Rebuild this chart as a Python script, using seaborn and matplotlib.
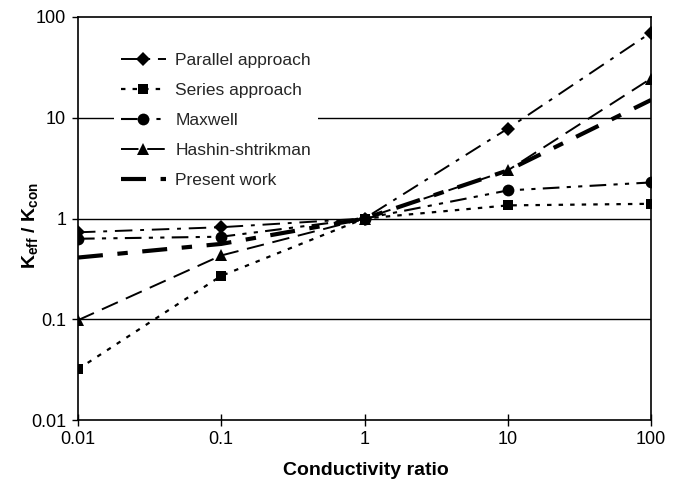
import matplotlib
matplotlib.use("Agg")
import matplotlib.pyplot as plt
import seaborn as sns

# Conductivity ratio and effective conductivity ratio for each model
ratio = [0.01, 0.1, 1, 10, 100]
parallel = [0.73, 0.82, 1.0, 7.8, 70.0]
series = [0.032, 0.27, 1.0, 1.35, 1.4]
maxwell = [0.63, 0.66, 1.0, 1.9, 2.28]
hashin = [0.098, 0.43, 1.0, 3.0, 24.5]
present = [0.41, 0.56, 1.0, 3.0, 15.0]
tick_labels = ["0.01", "0.1", "1", "10", "100"]

sns.set_theme(style="white")
plt.rcParams["font.family"] = ["Liberation Sans", "DejaVu Sans"]
plt.rcParams["mathtext.fontset"] = "custom"
plt.rcParams["mathtext.rm"] = "Liberation Sans"
plt.rcParams["mathtext.bf"] = "Liberation Sans:bold"

fig = plt.figure(figsize=(6.81, 4.84), dpi=100)
ax = fig.add_axes([0.1145, 0.132, 0.8415, 0.833])

lines = [
    ("Parallel approach", parallel, "D", (0, (9, 4, 2, 4)), 1.4, 7.5),
    ("Series approach", series, "s", (0, (2, 3.2)), 1.6, 7.5),
    ("Maxwell", maxwell, "o", (0, (8, 3.5, 2, 3.5, 2, 3.5)), 1.5, 8.5),
    ("Hashin-shtrikman", hashin, "^", (0, (9, 4.5)), 1.4, 8.5),
    ("Present work", present, None, (0, (6, 3.5, 2.5, 3.5)), 3.0, 0),
]

for label, vals, mk, ls, lw, ms in lines:
    sns.lineplot(x=ratio, y=vals, ax=ax, color="black", marker=mk,
                 markersize=ms, markeredgewidth=0, linestyle=ls, lw=lw,
                 label=label, sort=False, zorder=3)

ax.set_xscale("log")
ax.set_yscale("log")
ax.set_xlim(0.01, 100)
ax.set_ylim(0.01, 100)
ax.set_xticks(ratio)
ax.set_xticklabels(tick_labels)
ax.set_yticks([0.01, 0.1, 1, 10, 100])
ax.set_yticklabels(tick_labels)
ax.minorticks_off()

for v in [0.1, 1, 10]:
    ax.axhline(v, color="black", lw=1.0, zorder=1)

for s in ax.spines.values():
    s.set_color("black")
    s.set_linewidth(1.2)

ax.tick_params(axis="y", which="major", direction="out", length=4.5, width=1,
               color="black", labelsize=13, labelcolor="black", left=True, pad=4)
ax.tick_params(axis="x", which="major", direction="inout", length=8, width=1,
               color="black", labelsize=13, labelcolor="black", bottom=True, pad=4)

ax.set_xlabel("Conductivity ratio", fontsize=14, fontweight="bold", color="black")
ax.xaxis.set_label_coords(0.502, -0.105)
ax.set_ylabel(r"$\mathbf{K_{eff}}$ / $\mathbf{K_{con}}$", fontsize=14,
              fontweight="bold", color="black")
ax.yaxis.set_label_coords(-0.066, 0.484)

leg = ax.legend(loc="upper left", bbox_to_anchor=(0.047, 0.950), frameon=True,
                facecolor="white", edgecolor="none", framealpha=1, fancybox=False,
                fontsize=12.5, handlelength=2.6, handletextpad=0.55, labelspacing=0.86,
                borderpad=0.4)
leg.set_zorder(5)

fig.savefig("out.png", dpi=100)
